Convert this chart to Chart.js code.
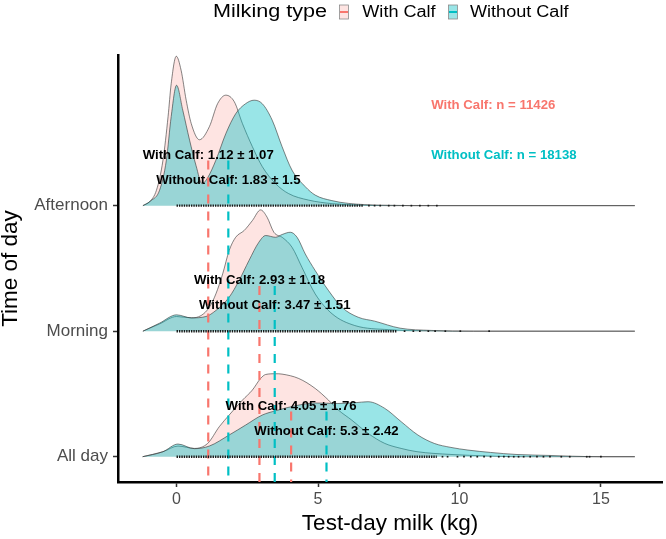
<!DOCTYPE html>
<html>
<head>
<meta charset="utf-8">
<title>Test-day milk by time of day</title>
<script src="https://cdn.jsdelivr.net/npm/chart.js@4.4.1/dist/chart.umd.min.js"></script>
<style>
  body { margin: 0; background: #fff; }
  #wrap { width: 666px; height: 539px; }
</style>
</head>
<body>
<div id="wrap"><canvas id="ridgeChart" width="666" height="539"></canvas></div>
<script>
// Ridge rows, bottom to top (y value 1, 2, 3)
const categories = ['All day', 'Morning', 'Afternoon'];
const groups = ['With Calf', 'Without Calf'];
const lineColors = ['#F8766D', '#00BFC4'];
const fillColors = ['rgba(248, 118, 109, 0.2)', 'rgba(0, 191, 196, 0.4)'];
const xTicks = [0, 5, 10, 15];

// Mean and SD per row (All day, Morning, Afternoon)
const meanWith = [4.05, 2.93, 1.12];
const sdWith = [1.76, 1.18, 1.07];
const meanWithout = [5.3, 3.47, 1.83];
const sdWithout = [2.42, 1.51, 1.5];
const nCounts = [11426, 18138];

// Density curves: x (kg) and ridge height (in row units)
const allDayWithX = [-1.2, -0.48, 0.05, 0.63, 1.1, 1.51, 1.86, 2.33, 2.68, 2.97, 3.15, 3.5, 3.73, 4.32, 4.9, 5.37, 5.72, 6.19, 6.77, 7.36, 7.94, 8.5, 9.7, 11, 12, 16.2];
const allDayWithH = [0, 0.04, 0.085, 0.066, 0.106, 0.239, 0.332, 0.451, 0.531, 0.623, 0.655, 0.661, 0.658, 0.623, 0.544, 0.451, 0.372, 0.292, 0.186, 0.106, 0.066, 0.04, 0.018, 0.006, 0, 0];
const allDayWithoutX = [-1.2, -0.48, 0.05, 0.63, 1.16, 1.86, 2.44, 3.03, 3.5, 4.2, 4.9, 5.7, 6.3, 6.77, 7.36, 7.94, 8.53, 9.11, 9.7, 10.3, 11.1, 12, 13.2, 14, 15, 16.2];
const allDayWithoutH = [0, 0.04, 0.101, 0.064, 0.085, 0.173, 0.252, 0.332, 0.366, 0.406, 0.428, 0.424, 0.43, 0.438, 0.385, 0.279, 0.173, 0.106, 0.074, 0.053, 0.034, 0.018, 0.01, 0.004, 0, 0];

const morningWithX = [-1.19, -0.6, 0, 0.52, 0.87, 1.16, 1.39, 1.63, 1.86, 2.09, 2.39, 2.68, 2.97, 3.2, 3.44, 3.75, 4.08, 4.43, 4.9, 5.5, 6.3, 7.5, 9, 10.5, 16.2];
const morningWithH = [0, 0.058, 0.117, 0.106, 0.125, 0.191, 0.297, 0.456, 0.643, 0.748, 0.802, 0.881, 0.966, 0.908, 0.788, 0.745, 0.669, 0.51, 0.297, 0.138, 0.045, 0.012, 0.002, 0, 0];
const morningWithoutX = [-1.19, -0.6, 0, 0.52, 1.04, 1.39, 1.86, 2.21, 2.56, 2.91, 3.15, 3.5, 3.73, 4.02, 4.26, 4.55, 4.9, 5.37, 5.84, 6.42, 7.0, 7.9, 9, 10.5, 16.2];
const morningWithoutH = [0, 0.064, 0.13, 0.106, 0.117, 0.165, 0.271, 0.404, 0.563, 0.709, 0.762, 0.748, 0.77, 0.788, 0.748, 0.615, 0.483, 0.324, 0.191, 0.111, 0.08, 0.024, 0.006, 0, 0];

const afternoonWithX = [-1.19, -0.95, -0.71, -0.48, -0.3, -0.19, -0.01, 0.16, 0.34, 0.52, 0.81, 1.16, 1.45, 1.74, 2.04, 2.33, 2.68, 3.03, 3.5, 3.96, 4.67, 5.5, 6.5, 7.5, 16.2];
const afternoonWithH = [0, 0.032, 0.123, 0.362, 0.709, 0.971, 1.19, 1.079, 0.84, 0.653, 0.525, 0.629, 0.812, 0.88, 0.828, 0.653, 0.47, 0.311, 0.175, 0.096, 0.044, 0.016, 0.004, 0, 0];
const afternoonWithoutX = [-1.19, -0.9, -0.6, -0.36, -0.19, 0, 0.22, 0.46, 0.69, 0.9, 1.1, 1.39, 1.74, 2.09, 2.44, 2.74, 3.03, 3.38, 3.73, 4.08, 4.55, 4.9, 5.49, 6.07, 7.24, 9.3, 16.2];
const afternoonWithoutH = [0, 0.04, 0.123, 0.362, 0.709, 0.959, 0.76, 0.522, 0.318, 0.175, 0.223, 0.362, 0.573, 0.732, 0.812, 0.84, 0.812, 0.681, 0.47, 0.283, 0.151, 0.084, 0.04, 0.018, 0.004, 0, 0];

// Rug of observations: dense stretch from 0 to denseEnd, then the sparse tail
const rugDenseEnd = [9.2, 7.8, 6.6];
const allDayRugTail = [9.4, 9.58, 9.93, 10.16, 10.4, 10.63, 10.87, 11.1, 11.39, 11.57, 11.74, 11.92, 12.09, 12.27, 12.5, 12.74, 12.97, 13.2, 13.6, 13.9, 14.5, 14.6, 15.0];
const morningRugTail = [8.06, 8.37, 8.6, 8.9, 9.14, 9.5, 10.03, 11.05];
const afternoonRugTail = [6.8, 7.0, 7.2, 7.5, 7.7, 8.0, 8.3, 8.6, 8.9, 9.2];

const FONT = '"Liberation Sans", Arial, sans-serif';

function toPoints(xs, hs, base) {
    return xs.map((x, i) => ({ x: x, y: base + hs[i] }));
}

function densityDataset(xs, hs, base, group, order) {
    return {
        data: toPoints(xs, hs, base),
        borderColor: '#333333',
        borderWidth: 0.6,
        backgroundColor: fillColors[group],
        fill: { value: base },
        pointRadius: 0,
        cubicInterpolationMode: 'monotone',
        order: order
    };
}

const curves = [
    [allDayWithX, allDayWithH, allDayWithoutX, allDayWithoutH],
    [morningWithX, morningWithH, morningWithoutX, morningWithoutH],
    [afternoonWithX, afternoonWithH, afternoonWithoutX, afternoonWithoutH]
];
const rugTails = [allDayRugTail, morningRugTail, afternoonRugTail];

const Y_MIN = 0.7986;
const Y_MAX = 4.2;

const datasets = [];
curves.forEach((c, i) => {
    const base = i + 1;
    datasets.push(densityDataset(c[0], c[1], base, 0, 10 + i * 2 + 1));
    datasets.push(densityDataset(c[2], c[3], base, 1, 10 + i * 2));
});

// dashed mean lines, from the label row down to the x axis
for (let i = 0; i < categories.length; i++) {
    const top = i + 1 + 0.36;
    [meanWith[i], meanWithout[i]].forEach((m, g) => {
        datasets.push({
            data: [{ x: m, y: top }, { x: m, y: Y_MIN }],
            borderColor: lineColors[g],
            borderWidth: 2.2,
            borderDash: [9, 8],
            pointRadius: 0,
            fill: false,
            order: 2
        });
    });
}

// rug marks
for (let i = 0; i < categories.length; i++) {
    const base = i + 1;
    datasets.push({
        data: [{ x: 0, y: base }, { x: rugDenseEnd[i], y: base }],
        borderColor: '#1a1a1a',
        borderWidth: 2.4,
        borderDash: [1.4, 1],
        pointRadius: 0,
        fill: false,
        order: 1
    });
    datasets.push({
        data: rugTails[i].map(x => ({ x: x, y: base })),
        showLine: false,
        pointStyle: 'rect',
        pointRadius: 1.2,
        pointBackgroundColor: '#1a1a1a',
        pointBorderWidth: 0,
        order: 1
    });
}

function drawStretched(ctx, text, x, y, font, color, align, sx) {
    ctx.save();
    ctx.font = font;
    ctx.fillStyle = color;
    ctx.textAlign = align;
    ctx.textBaseline = 'middle';
    ctx.translate(x, y);
    ctx.scale(sx, 1);
    ctx.fillText(text, 0, 0);
    ctx.restore();
}

// Mean +/- SD labels and n labels
const labelPlugin = {
    id: 'ridgeLabels',
    afterDatasetsDraw(chart) {
        const ctx = chart.ctx;
        const xs = chart.scales.x;
        const ys = chart.scales.y;
        const bold = 'bold 12px ' + FONT;
        for (let i = 0; i < categories.length; i++) {
            const base = i + 1;
            drawStretched(ctx, `${groups[0]}: ${meanWith[i]} ± ${sdWith[i]}`,
                xs.getPixelForValue(meanWith[i]), ys.getPixelForValue(base + 0.4), bold, '#000', 'center', 1.1);
            drawStretched(ctx, `${groups[1]}: ${meanWithout[i]} ± ${sdWithout[i]}`,
                xs.getPixelForValue(meanWithout[i]), ys.getPixelForValue(base + 0.2), bold, '#000', 'center', 1.1);
        }
        drawStretched(ctx, `${groups[0]}: n = ${nCounts[0]}`, xs.getPixelForValue(9), ys.getPixelForValue(3.8), bold, lineColors[0], 'left', 1.1);
        drawStretched(ctx, `${groups[1]}: n = ${nCounts[1]}`, xs.getPixelForValue(9), ys.getPixelForValue(3.4), bold, lineColors[1], 'left', 1.1);
    }
};

// Legend across the top: title then two keys
const legendPlugin = {
    id: 'topLegend',
    afterDraw(chart) {
        const ctx = chart.ctx;
        ctx.save();
        ctx.textBaseline = 'alphabetic';
        ctx.fillStyle = '#000';
        ctx.font = '18px ' + FONT;
        ctx.translate(213, 17);
        ctx.scale(1.2, 1);
        ctx.fillText('Milking type', 0, 0);
        ctx.restore();

        const keys = [{ x: 339.5, tx: 362.3 }, { x: 448.5, tx: 470 }];
        keys.forEach((k, g) => {
            ctx.save();
            ctx.fillStyle = fillColors[g];
            ctx.fillRect(k.x, 5, 9, 14);
            ctx.strokeStyle = '#8a8a8a';
            ctx.lineWidth = 0.8;
            ctx.strokeRect(k.x, 5, 9, 14);
            ctx.strokeStyle = lineColors[g];
            ctx.lineWidth = 2;
            ctx.beginPath();
            ctx.moveTo(k.x + 0.5, 12);
            ctx.lineTo(k.x + 8.5, 12);
            ctx.stroke();
            ctx.restore();

            ctx.save();
            ctx.textBaseline = 'alphabetic';
            ctx.fillStyle = '#000';
            ctx.font = '16px ' + FONT;
            ctx.translate(k.tx, 17);
            ctx.scale(1.13, 1);
            ctx.fillText(groups[g], 0, 0);
            ctx.restore();
        });
    }
};

const ctx = document.getElementById('ridgeChart').getContext('2d');
const ridgeChart = new Chart(ctx, {
    type: 'line',
    data: { datasets: datasets },
    options: {
        responsive: false,
        animation: false,
        events: [],
        layout: { padding: { top: 55, left: 0, right: 0, bottom: 0 } },
        plugins: {
            legend: { display: false },
            tooltip: { enabled: false }
        },
        scales: {
            x: {
                type: 'linear',
                min: -2.07,
                max: 17.16,
                afterBuildTicks: scale => { scale.ticks = xTicks.map(v => ({ value: v })); },
                afterFit: scale => { scale.height = 57; },
                grid: { drawOnChartArea: false, tickLength: 5, tickColor: '#333', tickWidth: 1.5 },
                border: { color: '#000', width: 2.5 },
                ticks: { color: '#4D4D4D', font: { size: 16, family: FONT }, padding: 3, maxRotation: 0 },
                title: {
                    display: true,
                    text: 'Test-day milk (kg)',
                    color: '#000',
                    font: { size: 22.5, family: FONT, lineHeight: 1 },
                    padding: { top: 0, bottom: 3.5 }
                }
            },
            y: {
                type: 'linear',
                min: Y_MIN,
                max: Y_MAX,
                afterBuildTicks: scale => { scale.ticks = categories.map((c, i) => ({ value: i + 1 })); },
                afterFit: scale => { scale.width = 118; },
                grid: { drawOnChartArea: false, tickLength: 5, tickColor: '#333', tickWidth: 1.5 },
                border: { color: '#000', width: 2.5 },
                ticks: {
                    color: '#4D4D4D',
                    font: { size: 17, family: FONT },
                    padding: 5,
                    callback: value => categories[Math.round(value) - 1]
                },
                title: {
                    display: true,
                    text: 'Time of day',
                    color: '#000',
                    font: { size: 22.5, family: FONT, lineHeight: 1 },
                    padding: { top: 0, bottom: 0 }
                }
            }
        }
    },
    plugins: [labelPlugin, legendPlugin]
});
</script>
</body>
</html>
